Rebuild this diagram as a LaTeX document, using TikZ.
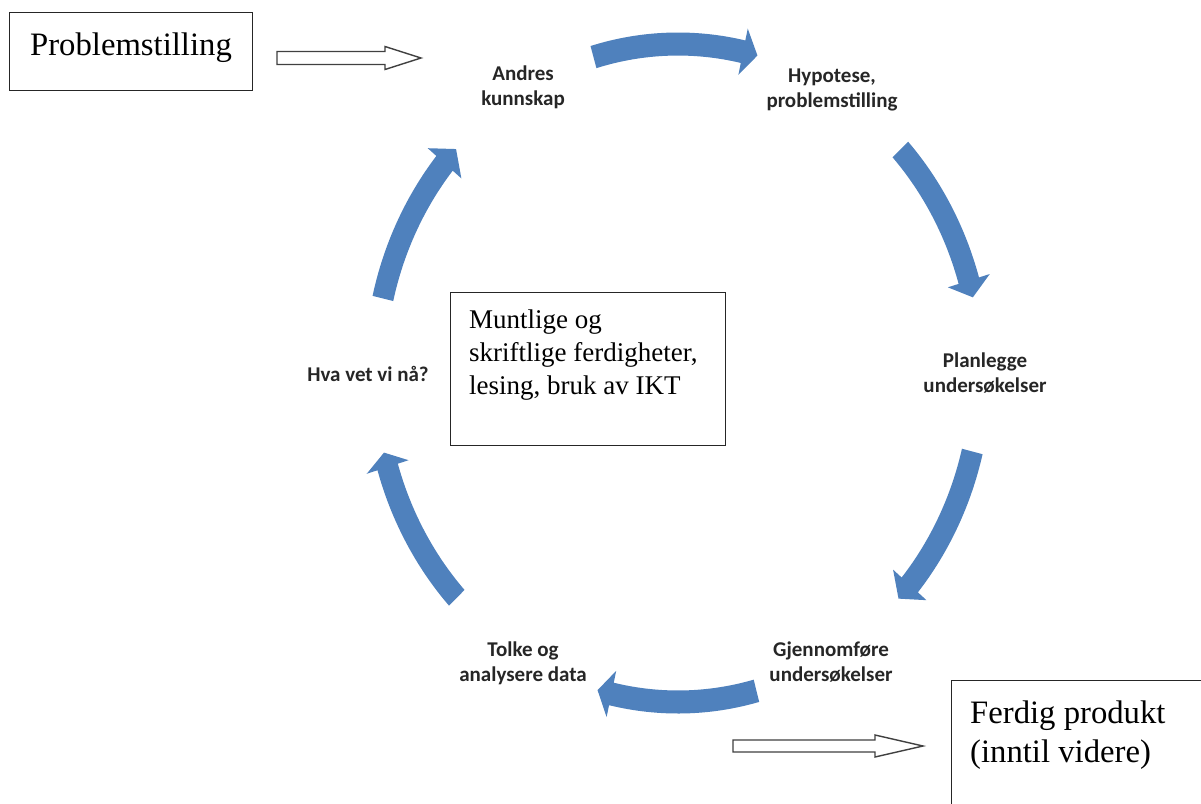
\documentclass[tikz,border=0pt]{standalone}
\usepackage{fontspec}
\usetikzlibrary{calc}
\setmainfont{Liberation Serif}
\newfontfamily\calib{Carlito}
\definecolor{arrowblue}{RGB}{79,129,189}
\tikzset{
  lab/.style={font=\calib\bfseries\fontsize{21}{24.5}\selectfont, align=center, inner sep=0pt, anchor=base, text=black!85},
  bigtxt/.style={font=\fontsize{32.7}{39}\selectfont, align=left, inner sep=0pt},
  midtxt/.style={font=\fontsize{27}{33}\selectfont, align=left, inner sep=0pt},
  framebox/.style={draw=black!85, line width=1.4pt, inner sep=0pt, anchor=north west},
  hollow/.style={draw=black!75, line width=1.4pt, fill=white, line join=miter},
}
\newcommand{\bluearrow}[3]{%
  \fill[arrowblue] (#1:1.035) arc[start angle=#1, end angle=#2, radius=1.035]
    -- (#2:1.072) -- (#3:1) -- (#2:0.928) -- (#2:0.965)
    arc[start angle=#2, end angle=#1, radius=0.965] -- cycle;}
\begin{document}
\begin{tikzpicture}[x=1pt, y=-1pt]
\useasboundingbox (0,0) rectangle (1201,803);
\fill[white] (0,0) rectangle (1201,803);

% boxes
\node[framebox, minimum width=243pt, minimum height=78pt] (prob) at (9,12) {};
\node[bigtxt, anchor=base] (probtxt) at (131,55) {Problemstilling};

\node[framebox, minimum width=275pt, minimum height=153pt] (mid) at (450,292) {};
\node[midtxt, anchor=base west] (midtxt) at (469,394) {Muntlige og\\skriftlige ferdigheter,\\lesing, bruk av IKT};

\node[framebox, minimum width=270pt, minimum height=140pt] (ferdig) at (951,680) {};
\node[bigtxt, anchor=base west] (ferdigtxt) at (970,762) {Ferdig produkt\\(inntil videre)};

% hollow arrows
\coordinate (h1a) at (277,58);
\coordinate (h1b) at (421,58);
\draw[hollow] ($(h1a)+(0,-6.5)$) -- ($(h1b)+(-36,-6.5)$) -- ($(h1b)+(-36,-11.5)$) -- (h1b)
  -- ($(h1b)+(-36,11.5)$) -- ($(h1b)+(-36,6.5)$) -- ($(h1a)+(0,6.5)$) -- cycle;
\coordinate (h2a) at (733,746);
\coordinate (h2b) at (923,746);
\draw[hollow] ($(h2a)+(0,-6)$) -- ($(h2b)+(-48,-6)$) -- ($(h2b)+(-48,-11)$) -- (h2b)
  -- ($(h2b)+(-48,11)$) -- ($(h2b)+(-48,6)$) -- ($(h2a)+(0,6)$) -- cycle;

% cycle labels
\node[lab] (l1) at (523,105) {Andres\\kunnskap};
\node[lab] (l2) at (832,107) {Hypotese,\\problemstilling};
\node[lab] (l3) at (985,392) {Planlegge\\undersøkelser};
\node[lab] (l4) at (831,681) {Gjennomføre\\undersøkelser};
\node[lab] (l5) at (523,681) {Tolke og\\analysere data};
\node[lab] (l6) at (368,381) {Hva vet vi nå?};

% blue curved arrows
\begin{scope}[shift={(678,373)}, xscale=303, yscale=-329]
  \bluearrow{106.2}{77.6}{74.8}
  \bluearrow{42.8}{16.3}{13.3}
  \bluearrow{-13.8}{-40.1}{-43.3}
  \bluearrow{-75}{-102.7}{-105.4}
  \bluearrow{-136.9}{-163.4}{-166}
  \bluearrow{166.9}{140.4}{137.1}
\end{scope}
\end{tikzpicture}
\end{document}
